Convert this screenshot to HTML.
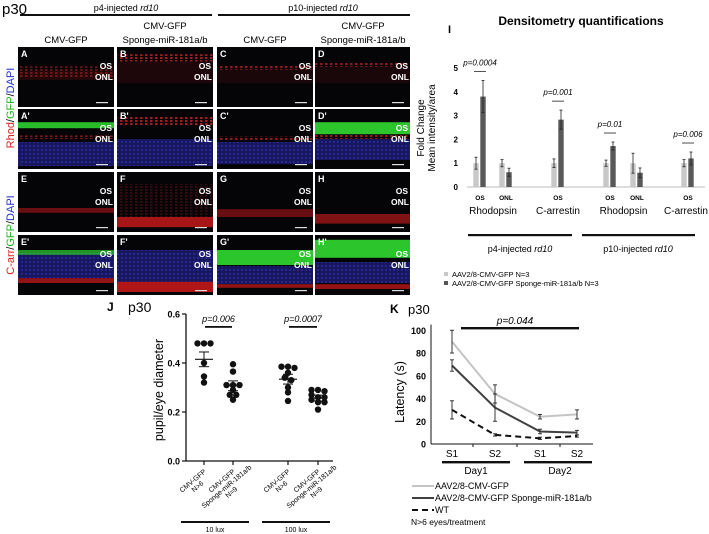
<!DOCTYPE html>
<html><head><meta charset="utf-8">
<style>
html,body{margin:0;padding:0;background:#fff;}
svg{display:block;font-family:"Liberation Sans",Arial,sans-serif;}
</style></head>
<body>
<svg id="fig" width="709" height="534" viewBox="0 0 709 534" xmlns="http://www.w3.org/2000/svg">
<defs>
<pattern id="dots" width="4" height="4" patternUnits="userSpaceOnUse"><circle cx="2" cy="2" r="1.2" fill="#3838c0" opacity="0.5"/></pattern>
<pattern id="rdots" width="5" height="3" patternUnits="userSpaceOnUse"><rect x="0" y="0" width="2.5" height="2" fill="#ff2a2a" opacity="0.7"/></pattern>
</defs>
<g id="micro"></g>
<g id="chartI"></g>
<g id="chartJ"></g>
<g id="chartK"></g>
</svg>
<script>
// ---------- Panel I data ----------
const iCategories = ["OS","ONL","OS","OS","ONL","OS"];
const iCtrlValues = [1.0,1.0,1.0,1.0,1.0,1.0];
const iCtrlErrors = [0.25,0.15,0.18,0.13,0.42,0.15];
const iSpongeValues = [3.8,0.62,2.83,1.72,0.6,1.2];
const iSpongeErrors = [0.68,0.17,0.4,0.17,0.2,0.27];
const iTicks = [0,1,2,3,4,5];
const iPvals = ["p=0.0004","","p=0.001","p=0.01","","p=0.006"];
// ---------- Panel J data ----------
const jGroups = ["g1","g2","g3","g4"];
const jPoints = [
  [0.48,0.48,0.48,0.40,0.32,0.345],
  [0.395,0.365,0.31,0.31,0.31,0.29,0.25,0.27,0.27],
  [0.385,0.38,0.385,0.36,0.34,0.33,0.30,0.28,0.245],
  [0.29,0.285,0.29,0.27,0.26,0.25,0.24,0.24,0.21,0.26]
];
const jMeans = [0.415,0.307,0.334,0.257];
const jSems = [0.03,0.02,0.02,0.012];
const jTicks = [0.0,0.2,0.4,0.6];
// ---------- Panel K data ----------
const kSessions = ["S1","S2","S1","S2"];
const kCtrl = [90,44,24,26];
const kCtrlErr = [10,8,2,4];
const kSponge = [69,32,11,10];
const kSpongeErr = [5,12,2,2];
const kWT = [30,8,5,7];
const kWTErr = [8,1,1,1];
const kTicks = [0,20,40,60,80,100];

const NS="http://www.w3.org/2000/svg";
function mk(parent,tag,attrs,text){const e=document.createElementNS(NS,tag);for(const k in attrs)e.setAttribute(k,attrs[k]);if(text!==undefined)e.textContent=text;parent.appendChild(e);return e;}

// ---------------- Microscopy ----------------
const micro=document.getElementById('micro');
let t;
t=mk(micro,'text',{x:2,y:14,'font-size':15},'p30');

t=mk(micro,'text',{x:126,y:11,'font-size':9,'text-anchor':'middle'});
t.innerHTML='p4-injected <tspan font-style="italic">rd10</tspan>';

t=mk(micro,'text',{x:323,y:11,'font-size':9,'text-anchor':'middle'});
t.innerHTML='p10-injected <tspan font-style="italic">rd10</tspan>';

mk(micro,'rect',{x:20,y:14,width:192,height:2,fill:'#111'});
mk(micro,'rect',{x:218,y:14,width:192,height:2,fill:'#111'});
const colX=[18,117,217,315];
const colHead=[["CMV-GFP"],["CMV-GFP","Sponge-miR-181a/b"],["CMV-GFP"],["CMV-GFP","Sponge-miR-181a/b"]];
colHead.forEach((h,i)=>{const cx=colX[i]+48;
 h.forEach((s,j)=>{const y=h.length==1?43:29+j*14;const e=mk(micro,'text',{x:cx,y:y,'font-size':9.5,'text-anchor':'middle'},s);
 });});
const rowY=[47,109,172,235];
const letters=[["A","B","C","D"],["A'","B'","C'","D'"],["E","F","G","H"],["E'","F'","G'","H'"]];
// bands: [type, top%, bottom%, opacity]  type: r=red dots, R=solid red, b=blue, g=green
const bands=[
 [[["r",0.32,0.5,0.55],["R",0.4,0.55,0.15]],[["r",0.12,0.24,0.9],["R",0.24,0.6,0.12]],[["r",0.3,0.38,0.8],["R",0.38,0.6,0.1]],[["r",0.26,0.33,0.8],["R",0.33,0.6,0.1]]],
 [[["b",0.55,0.95,0.75],["r",0.44,0.5,0.7],["g",0.22,0.32,0.9]],[["b",0.5,0.95,0.75],["r",0.12,0.28,0.9]],[["b",0.55,0.92,0.75],["r",0.46,0.52,0.8]],[["b",0.5,0.85,0.75],["g",0.22,0.42,0.95],["r",0.42,0.5,0.8]]],
 [[["R",0.6,0.68,0.5]],[["R",0.75,0.92,0.8],["r",0.2,0.75,0.25]],[["R",0.62,0.75,0.5]],[["R",0.7,0.86,0.6]]],
 [[["b",0.3,0.72,0.75],["R",0.72,0.8,0.7],["g",0.25,0.33,0.7]],[["b",0.25,0.78,0.75],["R",0.78,0.95,0.85]],[["b",0.52,0.82,0.75],["g",0.25,0.5,0.95],["R",0.82,0.88,0.7]],[["b",0.45,0.8,0.75],["g",0.08,0.38,0.95],["R",0.82,0.9,0.7]]]
];
const fillOf={r:'url(#rdots)',R:'#d01a1a',b:'#1c1c7a',g:'#2ed02e'};
for(let r=0;r<4;r++)for(let c=0;c<4;c++){
 const x=colX[c],y=rowY[r],w=c==3?95:96,h=60;
 const g=mk(micro,'g',{});
 
 
 mk(g,'rect',{x:x,y:y,width:w,height:h,fill:'#050508'});
 bands[r][c].forEach(b=>{mk(g,'rect',{x:x,y:y+b[1]*h,width:w,height:(b[2]-b[1])*h,fill:fillOf[b[0]],opacity:b[3]});
   if(b[0]=="b")mk(g,'rect',{x:x,y:y+b[1]*h,width:w,height:(b[2]-b[1])*h,fill:'url(#dots)'});});
 mk(g,'text',{x:x+3,y:y+10,'font-size':9,'font-weight':'bold',fill:'#fff'},letters[r][c]);
 mk(g,'text',{x:x+w-2,y:y+22,'font-size':8.5,'font-weight':'bold',fill:'#fff','text-anchor':'end'},'OS');
 mk(g,'text',{x:x+w-1,y:y+33,'font-size':8.5,'font-weight':'bold',fill:'#fff','text-anchor':'end'},'ONL');
 mk(g,'rect',{x:x+w-18,y:y+h-5,width:12,height:1.2,fill:'#ddd'});
}
function sideLabel(cy,parts,name){const e=mk(micro,'text',{x:0,y:0,'font-size':11,'text-anchor':'middle',transform:`translate(14,${cy}) rotate(-90)`});
 e.innerHTML=parts;}
sideLabel(108,'<tspan fill="#e02020">Rhod</tspan>/<tspan fill="#20b020">GFP</tspan>/<tspan fill="#2030d0">DAPI</tspan>','rhod-stain-label');
sideLabel(235,'<tspan fill="#e02020">C-arr</tspan>/<tspan fill="#20b020">GFP</tspan>/<tspan fill="#2030d0">DAPI</tspan>','carr-stain-label');

// ---------------- Panel I ----------------
(function(){
const G=document.getElementById('chartI');
const y0=187,yPer=23.8,axL=467,axR=705;
const yI=v=>y0-v*yPer;
const groupX=[480,506,558,610,637,688];
let e=mk(G,'text',{x:581,y:25,'font-size':12,'font-weight':'bold','text-anchor':'middle'},'Densitometry quantifications');

e=mk(G,'text',{x:448,y:33,'font-size':11,'font-weight':'bold'},'I');

e=mk(G,'text',{x:0,y:0,'font-size':10,'text-anchor':'middle',transform:'translate(424,128) rotate(-90)'},'Fold Change');

mk(G,'text',{x:0,y:0,'font-size':10,'text-anchor':'middle',transform:'translate(435,128) rotate(-90)'},'Mean intensity/area');
mk(G,'line',{x1:axL,y1:y0,x2:axR,y2:y0,stroke:'#bbb','stroke-width':1});
iTicks.forEach(v=>{e=mk(G,'text',{x:458,y:yI(v)+3,'font-size':8,'font-weight':'bold','text-anchor':'end'},v);
 });
iCategories.forEach((cat,i)=>{
 const gx=groupX[i];
 [[iCtrlValues[i],iCtrlErrors[i],'#c8c8c8',gx-4],[iSpongeValues[i],iSpongeErrors[i],'#595959',gx+3]].forEach((b,k)=>{
  const r=mk(G,'rect',{x:b[3]-2.7,y:yI(b[0]),width:5.4,height:yI(0)-yI(b[0]),fill:b[2]});
  
  const ya=yI(b[0]+b[1]),yb=yI(b[0]-b[1]);
  mk(G,'line',{x1:b[3],y1:ya,x2:b[3],y2:yb,stroke:'#222','stroke-width':0.8});
  mk(G,'line',{x1:b[3]-1.5,y1:ya,x2:b[3]+1.5,y2:ya,stroke:'#222','stroke-width':0.8});
  mk(G,'line',{x1:b[3]-1.5,y1:yb,x2:b[3]+1.5,y2:yb,stroke:'#222','stroke-width':0.8});
 });
 e=mk(G,'text',{x:gx,y:200,'font-size':6.5,'font-weight':'bold','text-anchor':'middle'},cat);
 
 if(iPvals[i]){const top=yI(Math.max(iSpongeValues[i]+iSpongeErrors[i],iCtrlValues[i]+iCtrlErrors[i]));
  e=mk(G,'text',{x:gx,y:top-15,'font-size':8,'font-style':'italic','text-anchor':'middle'},iPvals[i]);
  
  mk(G,'line',{x1:gx-6,y1:top-9,x2:gx+6,y2:top-9,stroke:'#222','stroke-width':0.8});}
});
[["Rhodopsin",(groupX[0]+groupX[1])/2],["C-arrestin",groupX[2]],["Rhodopsin",(groupX[3]+groupX[4])/2],["C-arrestin",groupX[5]-2]].forEach(p=>{
 e=mk(G,'text',{x:p[1],y:214,'font-size':10,'text-anchor':'middle'},p[0]);
 });
mk(G,'rect',{x:468,y:234,width:104,height:2.2,fill:'#111'});
mk(G,'rect',{x:582,y:234,width:113,height:2.2,fill:'#111'});
e=mk(G,'text',{x:520,y:252,'font-size':9,'text-anchor':'middle'});e.innerHTML='p4-injected <tspan font-style="italic">rd10</tspan>';

e=mk(G,'text',{x:638,y:252,'font-size':9,'text-anchor':'middle'});e.innerHTML='p10-injected <tspan font-style="italic">rd10</tspan>';

mk(G,'rect',{x:444,y:272,width:4,height:4,fill:'#c8c8c8'});
e=mk(G,'text',{x:452,y:277,'font-size':7.5},'AAV2/8-CMV-GFP N=3');
mk(G,'rect',{x:444,y:281,width:4,height:4,fill:'#555'});
e=mk(G,'text',{x:452,y:286,'font-size':7.5},'AAV2/8-CMV-GFP Sponge-miR-181a/b N=3');
})();

// ---------------- Panel J ----------------
(function(){
const G=document.getElementById('chartJ');
const y0=461,per=245,axX=186,axR=333;
const yJ=v=>y0-v*per;
const gx=[204,233,288,318];
let e=mk(G,'text',{x:107,y:311,'font-size':12,'font-weight':'bold'},'J');
e=mk(G,'text',{x:128,y:312,'font-size':14},'p30');
e=mk(G,'text',{x:0,y:0,'font-size':12.5,'text-anchor':'middle',transform:'translate(163,390) rotate(-90)'},'pupil/eye diameter');

mk(G,'line',{x1:axX,y1:yJ(0.6),x2:axX,y2:y0,stroke:'#111','stroke-width':1.3});
mk(G,'line',{x1:axX,y1:y0,x2:axR,y2:y0,stroke:'#111','stroke-width':1.3});
jTicks.forEach(v=>{mk(G,'line',{x1:axX-4,y1:yJ(v),x2:axX,y2:yJ(v),stroke:'#111','stroke-width':1.2});
 e=mk(G,'text',{x:axX-6,y:yJ(v)+3.5,'font-size':9,'font-weight':'bold','text-anchor':'end'},v.toFixed(1));
 });
const labs=[["CMV-GFP","N>6"],["CMV-GFP","Sponge-miR-181a/b","N=9"],["CMV-GFP","N>6"],["CMV-GFP","Sponge-miR-181a/b","N=9"]];
jGroups.forEach((g,i)=>{
 mk(G,'line',{x1:gx[i],y1:y0,x2:gx[i],y2:y0+4,stroke:'#111','stroke-width':1.2});
 const pts=jPoints[i];
 const sorted=pts.map((v,k)=>[v,k]).sort((a,b)=>b[0]-a[0]);
 let rows=[];sorted.forEach(p=>{const last=rows[rows.length-1];if(last&&Math.abs(last[0][0]-p[0])<0.012)last.push(p);else rows.push([p]);});
 rows.forEach(row=>{row.forEach((p,j)=>{const dx=(j-(row.length-1)/2)*6.5;
  const c=mk(G,'circle',{cx:gx[i]+dx,cy:yJ(p[0]),r:3.2,fill:'#111'});
  });});
 const m=mk(G,'line',{x1:gx[i]-9,y1:yJ(jMeans[i]),x2:gx[i]+9,y2:yJ(jMeans[i]),stroke:'#111','stroke-width':1.2});
 
 [jMeans[i]+jSems[i],jMeans[i]-jSems[i]].forEach(v=>mk(G,'line',{x1:gx[i]-5,y1:yJ(v),x2:gx[i]+5,y2:yJ(v),stroke:'#111','stroke-width':1}));
 mk(G,'line',{x1:gx[i],y1:yJ(jMeans[i]+jSems[i]),x2:gx[i],y2:yJ(jMeans[i]-jSems[i]),stroke:'#111','stroke-width':1});
 const tg=mk(G,'g',{transform:`translate(${gx[i]+4},${y0+10}) rotate(-40)`});
 
 labs[i].forEach((s,j)=>mk(tg,'text',{x:-18,y:j*7.5,'font-size':7,'text-anchor':'middle'},s));
});
[[gx[0],gx[1],"p=0.006"],[gx[2],gx[3],"p=0.0007"]].forEach(p=>{
 mk(G,'rect',{x:p[0]+1,y:326,width:p[1]-p[0]-2,height:1.8,fill:'#111'});
 e=mk(G,'text',{x:(p[0]+p[1])/2,y:322,'font-size':9,'font-style':'italic','text-anchor':'middle'},p[2]);
 });
mk(G,'rect',{x:181,y:521,width:68,height:2,fill:'#111'});
mk(G,'rect',{x:262,y:521,width:68,height:2,fill:'#111'});
e=mk(G,'text',{x:215,y:532,'font-size':7,'text-anchor':'middle'},'10 lux');
e=mk(G,'text',{x:296,y:532,'font-size':7,'text-anchor':'middle'},'100 lux');
})();

// ---------------- Panel K ----------------
(function(){
const G=document.getElementById('chartK');
const y0=444,per=1.1375,axX=431,axR=593;
const yK=v=>y0-v*per;
const xs=[452,495,540,577];
let e=mk(G,'text',{x:390,y:313,'font-size':12,'font-weight':'bold'},'K');
e=mk(G,'text',{x:408,y:314,'font-size':13},'p30');
e=mk(G,'text',{x:0,y:0,'font-size':12.5,'text-anchor':'middle',transform:'translate(404,392) rotate(-90)'},'Latency (s)');

mk(G,'line',{x1:axX,y1:yK(105),x2:axX,y2:y0,stroke:'#111','stroke-width':1});
mk(G,'line',{x1:axX,y1:y0,x2:axR,y2:y0,stroke:'#111','stroke-width':1});
kTicks.forEach(v=>{e=mk(G,'text',{x:axX-5,y:yK(v)+3.5,'font-size':9,'font-weight':'bold','text-anchor':'end'},v);
 });
[473,517,560].forEach(x=>mk(G,'line',{x1:x,y1:y0,x2:x,y2:y0+3,stroke:'#111'}));
kSessions.forEach((s,i)=>{e=mk(G,'text',{x:xs[i],y:457,'font-size':10,'text-anchor':'middle'},s);
 });
mk(G,'rect',{x:442,y:461,width:68,height:2.4,fill:'#111'});
mk(G,'rect',{x:524,y:461,width:68,height:2.4,fill:'#111'});
e=mk(G,'text',{x:476,y:474,'font-size':10,'text-anchor':'middle'},'Day1');
e=mk(G,'text',{x:560,y:474,'font-size':10,'text-anchor':'middle'},'Day2');
const series=[[kCtrl,kCtrlErr,'#c4c4c4',2,'','line-control'],[kSponge,kSpongeErr,'#404040',2,'','line-sponge'],[kWT,kWTErr,'#111',2,'6,4','line-wt']];
series.forEach(s=>{
 const p=mk(G,'polyline',{points:s[0].map((v,i)=>xs[i]+','+yK(v)).join(' '),fill:'none',stroke:s[2],'stroke-width':s[3],'stroke-dasharray':s[4]});
 
 s[0].forEach((v,i)=>{const a=yK(v+s[1][i]),b=yK(v-s[1][i]);
  mk(G,'line',{x1:xs[i],y1:a,x2:xs[i],y2:b,stroke:'#222','stroke-width':0.9});
  mk(G,'line',{x1:xs[i]-2,y1:a,x2:xs[i]+2,y2:a,stroke:'#222','stroke-width':0.9});
  mk(G,'line',{x1:xs[i]-2,y1:b,x2:xs[i]+2,y2:b,stroke:'#222','stroke-width':0.9});});
});
mk(G,'rect',{x:461,y:327,width:118,height:2.4,fill:'#111'});
e=mk(G,'text',{x:515,y:324,'font-size':10,'font-style':'italic','text-anchor':'middle'},'p=0.044');

const leg=[['#c4c4c4','','AAV2/8-CMV-GFP',489],['#404040','','AAV2/8-CMV-GFP Sponge-miR-181a/b',501],['#111','6,4','WT',513]];
leg.forEach(l=>{mk(G,'line',{x1:412,y1:l[3]-3,x2:434,y2:l[3]-3,stroke:l[0],'stroke-width':2,'stroke-dasharray':l[1]});
 e=mk(G,'text',{x:435,y:l[3],'font-size':9},l[2]);});
e=mk(G,'text',{x:411,y:525,'font-size':8.5},'N>6 eyes/treatment');
})();
</script>
</body></html>
